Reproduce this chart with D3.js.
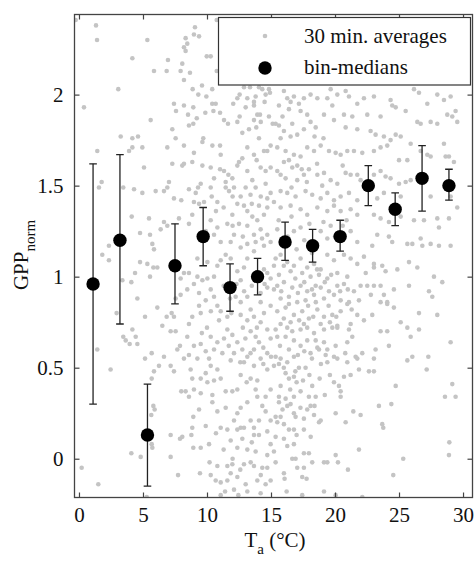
<!DOCTYPE html>
<html>
<head>
<meta charset="utf-8">
<script src="https://cdn.jsdelivr.net/npm/d3@7/dist/d3.min.js"></script>
<style>
  body { margin: 0; background: #fff; }
  svg text { font-family: "Liberation Serif", "Times New Roman", serif; fill: #111; }
</style>
</head>
<body>
<div id="chart"></div>
<script>
// 30 min. averages [Ta, GPPnorm]
const avgPoints = [
  [-0.26,2.41],[1.33,2.38],[1.41,2.30],[4.17,2.20],[5.34,2.30],[3.07,2.03],[0.39,1.93],[5.6,1.86],[5.86,2.13],[6.85,2.13],
  [6.95,2.19],[8.07,2.17],[7.94,2.13],[8.67,2.12],[8.2,2.08],[8.33,2.24],[8.2,2.26],[8.33,2.31],[8.46,2.28],[8.98,2.33],
  [9.06,2.37],[9.38,2.32],[9.98,2.21],[10.29,2.21],[10.76,2.13],[10.76,2.41],[8.88,2.03],[9.61,2.05],[9.32,2.0],[9.95,1.99],
  [10.41,2.03],[7.42,1.95],[8.2,1.94],[7.58,1.91],[8.93,1.93],[8.52,1.89],[9.2,1.87],[9.87,1.90],[10.41,1.95],[10.68,1.95],
  [10.5,1.91],[11.02,1.90],[8.93,1.84],[8.59,1.83],[7.29,1.81],[11.33,1.86],[11.64,1.84],[12.05,1.95],[12.37,1.98],[12.55,2.0],
  [12.37,1.85],[12.55,1.88],[13.15,1.98],[13.02,1.93],[13.67,1.96],[13.8,1.99],[13.67,1.94],[13.36,2.04],[12.89,2.04],[14.06,2.04],
  [14.32,2.03],[14.84,2.03],[14.58,2.0],[14.5,1.96],[14.92,2.01],[13.93,1.89],[14.14,1.89],[13.67,1.86],[14.2,1.85],[14.84,1.88],
  [15.13,1.84],[13.28,1.81],[13.85,1.82],[12.76,1.79],
  [16.01,2.02],[16.27,1.98],[16.53,1.96],[16.79,1.99],[17.18,1.95],[17.57,1.98],[18.09,2.0],[18.62,1.98],[19.4,1.98],[19.66,2.03],
  [20.18,2.0],[20.83,2.02],[21.09,1.99],[21.74,1.95],[22.26,1.98],[23.04,1.99],[24.34,1.97],[24.47,1.94],[24.74,1.93],[25.52,1.91],
  [26.17,2.03],[26.56,2.01],[27.21,1.95],[27.99,2.0],[28.51,1.97],[29.03,1.99],[29.42,1.91],[15.62,1.94],[16.4,1.92],[17.31,1.91],
  [17.83,1.89],[15.36,1.84],[15.62,1.83],[16.01,1.80],[16.66,1.84],[17.05,1.78],[16.53,1.77],[15.75,1.76],[17.57,1.81],[18.09,1.85],
  [18.49,1.82],[19.14,1.89],[19.79,1.94],[19.92,1.86],[20.7,1.89],[20.83,1.82],[21.35,1.88],[21.74,1.81],[22.52,1.89],[22.78,1.80],
  [23.56,1.88],[23.17,1.78],[23.82,1.77],[24.34,1.75],[24.74,1.78],[25.13,1.77],[25.91,1.73],[26.43,1.85],[26.69,1.84],[27.47,1.85],
  [27.99,1.84],[28.77,1.89],[29.16,1.88],[29.55,1.85],[26.69,1.69],[27.21,1.67],[27.47,1.66],[28.51,1.73],[28.64,1.66],[28.9,1.66],
  [29.29,1.63],[15.49,1.71],[16.14,1.69],[16.79,1.67],[17.31,1.66],[16.01,1.63],[16.66,1.60],[17.05,1.61],[17.83,1.71],[18.36,1.69],
  [18.88,1.72],[19.53,1.69],[20.05,1.68],[20.44,1.67],[20.96,1.69],[21.48,1.69],[22.13,1.68],[23.04,1.69],[23.56,1.71],[24.08,1.72],
  [25.0,1.64],[25.65,1.64],[15.49,1.58],[15.75,1.56],[16.14,1.54],[17.05,1.53],[17.57,1.56],[17.96,1.59],[18.62,1.56],[19.14,1.57],
  [19.66,1.53],[20.18,1.51],[20.83,1.57],[21.22,1.56],[21.74,1.56],[22.0,1.53],[23.04,1.56],[23.56,1.58],[23.95,1.55],[24.34,1.54],
  [25.0,1.51],[25.52,1.52],[25.91,1.53],[15.75,1.47],[16.27,1.46],[16.92,1.44],[17.7,1.47],[18.22,1.45],[18.88,1.43],[19.4,1.46],
  [19.92,1.42],[20.44,1.44],[21.09,1.46],[21.74,1.42],[23.3,1.43],[23.82,1.46],[25.13,1.44],[27.47,1.44],[29.03,1.44],
  [15.75,1.38],[16.53,1.39],[17.31,1.37],[17.83,1.34],[18.62,1.38],[19.4,1.36],[19.92,1.39],[20.44,1.36],[21.22,1.37],[21.74,1.34],
  [23.04,1.34],[23.56,1.32],[24.21,1.30],[25.13,1.33],[26.17,1.31],[26.95,1.31],[27.99,1.32],[28.9,1.32],[29.55,1.38],[15.49,1.26],
  [16.79,1.25],[17.31,1.27],[18.88,1.25],[19.4,1.21],[19.66,1.28],[21.22,1.25],[21.74,1.19],[22.91,1.17],[23.3,1.23],[24.21,1.22],
  [24.47,1.19],[25.65,1.18],[26.04,1.18],[26.69,1.21],[26.82,1.17],[27.47,1.18],[28.12,1.17],[28.12,1.27],[29.03,1.17],[15.36,1.10],
  [15.75,1.12],[16.27,1.08],[16.79,1.06],[17.31,1.10],[17.83,1.05],[18.36,1.07],[18.88,1.04],[19.4,1.12],[19.92,1.09],[20.7,1.12],
  [21.22,1.10],[21.74,1.07],[22.26,1.11],[23.04,1.07],[23.04,1.05],[23.69,1.06],[23.95,1.03],[24.87,1.04],[25.78,1.08],[26.43,1.05],
  [27.73,1.0],[15.62,1.01],[16.53,1.03],[17.44,1.02],[18.09,1.0],[18.75,1.01],[19.4,0.99],[20.18,1.02],[20.96,1.0],[15.49,0.95],
  [16.01,0.97],[16.66,0.94],[17.31,0.95],[17.83,0.92],[18.49,0.95],[18.88,0.94],[19.53,0.92],[20.18,0.95],[20.7,0.96],[21.48,0.92],
  [22.0,0.95],[22.52,0.95],[23.04,0.95],[23.56,0.95],[23.82,0.90],[24.6,0.93],[25.78,0.95],[27.34,0.92],[27.6,0.89],[28.38,0.97],
  [15.75,0.88],[16.4,0.89],[17.05,0.86],[17.7,0.87],[18.36,0.90],[19.14,0.88],[19.92,0.90],[20.44,0.87],[21.09,0.86],[21.87,0.87],
  [23.56,0.86],[24.08,0.86],[15.49,0.81],[16.14,0.83],[16.79,0.79],[17.44,0.81],[17.96,0.77],[18.62,0.82],[19.14,0.78],[19.79,0.79],
  [20.44,0.81],[20.96,0.85],[21.74,0.79],[22.26,0.76],[22.91,0.79],[24.08,0.85],[24.6,0.83],[25.13,0.75],[26.56,0.80],[27.99,0.79],
  [15.75,0.74],[16.53,0.75],[17.57,0.74],[18.88,0.74],[20.18,0.73],[21.22,0.74],
  [15.36,0.71],[16.27,0.72],[16.66,0.70],[17.31,0.71],[17.83,0.72],[18.36,0.69],[19.14,0.71],[19.79,0.72],[20.18,0.72],[21.09,0.71],
  [23.56,0.70],[24.08,0.70],[25.65,0.72],[26.56,0.71],[15.49,0.67],[16.14,0.67],[16.79,0.65],[17.31,0.62],[17.83,0.65],[18.49,0.65],
  [18.62,0.61],[19.14,0.64],[19.4,0.60],[20.05,0.62],[20.96,0.64],[21.35,0.67],[22.13,0.58],[21.61,0.56],[23.17,0.60],[24.21,0.62],
  [25.91,0.67],[29.03,0.64],[15.36,0.56],[15.75,0.55],[15.62,0.52],[16.27,0.53],[16.79,0.56],[17.18,0.50],[17.7,0.50],[18.09,0.58],
  [18.75,0.60],[19.27,0.57],[19.4,0.53],[19.92,0.56],[20.18,0.55],[20.96,0.53],[21.74,0.55],[21.87,0.49],[22.65,0.48],[23.04,0.55],
  [23.04,0.48],[25.65,0.54],[26.04,0.56],[27.29,0.56],[27.16,0.49],[16.14,0.47],[16.79,0.45],[16.4,0.44],[15.75,0.40],[18.22,0.40],
  [19.92,0.42],[20.31,0.40],[20.7,0.45],[21.22,0.46],[20.44,0.37],[20.44,0.34],[24.74,0.40],[29.16,0.41],[15.62,0.34],[16.14,0.33],
  [16.53,0.30],[16.79,0.34],[17.31,0.37],[17.96,0.34],[18.09,0.29],[18.49,0.34],[17.83,0.27],[15.62,0.31],[16.27,0.29],[23.43,0.29],
  [24.4,0.30],[28.59,0.34],[29.42,0.34],[15.36,0.23],[15.75,0.23],[16.79,0.25],[16.92,0.23],[17.57,0.22],[18.36,0.24],[18.75,0.20],
  [18.88,0.21],[20.05,0.25],[20.83,0.20],[21.43,0.26],[22.0,0.24],[23.69,0.19],[23.77,0.17],[15.49,0.20],[16.01,0.19],[16.79,0.16],
  [17.57,0.16],[15.36,0.12],[16.01,0.11],[16.27,0.07],[16.79,0.08],[17.57,0.03],[17.96,0.03],[18.22,-0.02],[16.66,0.0],[16.92,0.0],
  [17.05,-0.05],[17.57,-0.05],[19.14,-0.02],[19.4,-0.02],[20.05,0.02],[20.23,-0.02],[21.01,-0.06],[21.87,0.05],[25.33,0.0],[28.93,0.09],
  [28.9,0.02],[24.55,-0.09],[15.36,-0.02],[16.01,-0.08],[16.06,-0.11],[17.44,-0.10],[17.78,-0.11],[16.22,-0.18],[17.44,-0.20],[19.14,-0.18],
  [22.13,-0.21],[20.05,-0.20],
  [1.43,1.69],[1.56,1.49],[1.77,1.52],[3.46,1.49],[5.08,1.60],[4.3,1.48],[4.95,1.46],[3.26,1.77],[4.17,1.76],[4.61,1.77],
  [3.91,1.69],[4.17,1.71],[4.95,1.71],[6.9,1.71],[7.55,1.76],[8.2,1.72],[8.07,1.61],[8.2,1.62],[7.29,1.62],[8.85,1.63],
  [8.98,1.68],[9.64,1.74],[9.71,1.76],[10.42,1.72],[11.02,1.72],[11.07,1.67],[10.29,1.60],[9.64,1.61],[11.02,1.59],[10.55,1.54],
  [11.33,1.58],[11.46,1.52],[11.67,1.56],[11.98,1.54],[12.37,1.61],[12.5,1.63],[12.76,1.65],[13.15,1.71],[13.67,1.67],[13.88,1.64],
  [14.45,1.69],[14.71,1.69],[14.97,1.72],[14.06,1.76],[13.15,1.58],[13.54,1.53],[14.19,1.60],[14.58,1.58],[14.97,1.60],[13.02,1.49],
  [13.8,1.49],[14.58,1.51],[14.97,1.46],[12.11,1.49],[12.63,1.44],[11.46,1.49],[11.72,1.47],[10.29,1.49],[10.37,1.44],[10.81,1.41],
  [9.51,1.51],[9.3,1.49],[9.12,1.46],[8.59,1.48],[7.99,1.42],[7.42,1.43],[6.9,1.49],[6.64,1.47],[5.99,1.47],[7.03,1.52],
  [5.47,1.32],[4.12,1.33],[4.77,1.24],[5.55,1.23],[5.73,1.18],[5.86,1.15],[6.38,1.26],[6.64,1.30],[6.9,1.28],[7.81,1.32],
  [8.59,1.29],[8.85,1.34],[10.29,1.31],[10.81,1.27],[10.55,1.23],[11.07,1.19],[11.46,1.12],[11.85,1.19],[12.11,1.23],[11.59,1.29],
  [11.98,1.34],[13.15,1.36],[13.54,1.33],[13.93,1.31],[14.45,1.34],[14.71,1.38],[12.5,1.29],[13.15,1.28],[13.67,1.23],[14.19,1.26],
  [14.71,1.23],[13.15,1.18],[13.8,1.19],[14.45,1.17],[14.97,1.19],[12.63,1.16],[13.67,1.14],[12.37,1.40],[12.89,1.39],[14.06,1.39],
  [15.23,1.41],[14.71,1.43],[2.34,1.17],[1.82,1.12],[8.98,1.41],[9.38,1.40],[9.77,1.41],
  [2.34,1.09],[3.39,0.98],[4.09,0.97],[4.38,1.02],[4.77,1.08],[5.34,1.07],[5.81,1.05],[6.12,1.05],[5.55,1.0],[4.56,0.88],
  [5.16,0.78],[6.12,0.83],[2.94,0.80],[3.46,0.67],[4.17,0.71],[4.43,0.67],[3.65,0.65],[3.96,0.63],[4.56,0.63],[5.16,0.55],
  [5.68,0.58],[6.51,0.73],[6.85,0.78],[7.24,0.80],[7.42,0.78],[7.16,0.70],[7.55,0.70],[7.89,0.62],[7.68,0.60],[6.64,0.56],
  [5.86,0.48],[6.25,0.51],[7.16,0.51],[7.42,0.48],[8.72,0.49],[8.2,0.55],[8.59,0.57],[9.25,0.55],[8.98,0.62],[9.51,0.63],
  [9.9,0.59],[10.16,0.55],[10.29,0.51],[10.81,0.49],[9.9,0.47],[8.59,0.74],[8.46,0.67],[8.85,0.78],[9.38,0.84],[9.51,0.80],
  [9.9,0.87],[9.38,0.91],[8.98,0.96],[8.46,0.93],[7.94,0.99],[8.2,1.02],[8.59,1.02],[9.25,1.0],[9.64,0.98],[10.03,0.99],
  [10.55,1.0],[10.29,0.93],[10.55,0.89],[10.81,0.84],[11.07,0.81],[11.59,0.78],[10.94,0.76],[11.59,0.71],[11.98,0.68],[12.37,0.64],
  [12.11,0.58],[12.76,0.60],[13.15,0.56],[12.89,0.53],[13.67,0.51],[14.19,0.55],[14.71,0.58],[13.67,0.60],[14.06,0.64],[13.8,0.67],
  [13.41,0.70],[13.15,0.76],[13.67,0.78],[14.19,0.75],[14.71,0.71],[14.97,0.66],[14.45,0.80],[14.97,0.84],[14.19,0.86],[13.41,0.82],
  [12.63,0.79],[12.63,0.86],[12.24,0.89],[13.15,0.89],[14.19,0.91],[14.71,0.94],[15.23,0.93],[14.97,0.99],[14.71,1.02],[15.23,1.06],
  [14.45,1.04],[12.37,1.03],[12.63,0.98],[12.89,1.05],[10.81,1.06],[11.07,1.09],[11.85,1.10],[13.15,1.10],[10.03,1.08],[9.25,1.10],
  [7.94,0.90],[7.55,0.88],[11.33,0.66],[10.81,0.64],[10.29,0.67],[10.55,0.60],[14.71,0.49],[15.23,0.51],[11.85,0.54],[12.63,0.46],
  [1.43,0.60],[2.47,0.49],
  [5.68,0.44],[5.81,0.29],[5.91,0.27],[5.65,0.24],[5.55,0.11],[5.68,0.08],[5.73,0.06],[4.82,0.01],[4.09,0.03],[7.16,0.13],
  [7.16,0.01],[0.21,-0.05],[1.51,-0.14],[7.74,-0.09],[7.89,0.11],[8.07,0.12],[8.85,0.17],[8.78,0.13],[8.93,0.06],[9.51,0.06],
  [10.16,0.08],[9.38,0.27],[8.93,0.23],[7.99,0.37],[8.33,0.37],[8.59,0.34],[8.98,0.38],[9.51,0.36],[8.85,0.44],[9.51,0.44],
  [10.03,0.42],[10.55,0.43],[11.07,0.44],[11.46,0.37],[11.98,0.37],[12.37,0.38],[13.1,0.42],[13.41,0.44],[13.93,0.43],[13.8,0.38],
  [13.15,0.31],[12.63,0.28],[12.37,0.25],[10.42,0.35],[10.42,0.31],[10.81,0.26],[11.46,0.28],[12.11,0.21],[12.63,0.17],[12.37,0.16],
  [12.89,0.17],[13.41,0.21],[13.67,0.17],[14.06,0.21],[14.58,0.26],[14.97,0.21],[14.32,0.29],[13.93,0.34],[14.58,0.34],[14.97,0.38],
  [11.59,0.16],[11.07,0.17],[11.85,0.10],[12.76,0.11],[13.67,0.13],[14.06,0.13],[14.71,0.15],[14.97,0.08],[12.37,0.06],[13.15,0.05],
  [13.8,0.04],[14.71,0.02],[15.23,0.04],[10.81,-0.04],[11.59,-0.04],[11.98,-0.03],[12.89,-0.03],[13.41,-0.02],[13.67,-0.04],[14.32,-0.05],
  [14.71,-0.05],[9.45,-0.08],[10.29,-0.09],[10.68,-0.12],[11.07,-0.13],[11.59,-0.12],[11.85,-0.08],[12.37,-0.10],[13.02,-0.14],[13.93,-0.12],
  [14.58,-0.14],[14.97,-0.12],[12.11,-0.17],[13.15,-0.18],[14.19,-0.19],[11.41,-0.18],[12.45,-0.20],[5.29,-0.21],[11.07,-0.20],
  // denser core, filled in between the dots above
  [15.9,1.18],[16.3,1.22],[17.0,1.15],[17.6,1.20],[18.2,1.13],[18.6,1.18],[19.1,1.30],[20.0,1.22],[20.6,1.28],[16.0,1.06],
  [16.9,0.99],[17.6,0.97],[18.2,0.93],[18.6,1.04],[19.2,0.97],[19.7,1.01],[20.4,0.92],[21.0,0.93],[15.8,0.92],[16.4,0.85],
  [17.1,0.91],[17.9,0.84],[18.5,0.86],[19.5,0.84],[20.1,0.78],[21.3,0.82],[16.0,0.77],[17.2,0.76],[18.3,0.78],[19.6,0.75],
  [15.6,1.31],[16.6,1.33],[18.0,1.29],[20.9,1.31],[22.4,1.02],[22.8,0.90],
  [15.7,0.62],[16.4,0.60],[17.1,0.57],[17.6,0.59],[18.2,0.55],[18.9,0.52],[16.0,0.50],[16.9,0.48],[17.5,0.43],[18.0,0.46],
  [18.8,0.44],[16.5,0.38],[17.0,0.42],[15.9,0.27],[17.3,0.28],[18.4,0.29],[19.2,0.35],[17.0,0.13],[18.1,0.12],[16.4,0.16],
  [19.6,0.46],[20.8,0.58],
  [11.3,0.95],[11.8,0.88],[12.3,0.96],[12.9,0.92],[13.5,0.95],[14.1,1.01],[14.5,0.96],[11.9,0.80],[12.8,0.72],[13.0,0.66],
  [13.9,0.72],[14.4,0.61],[12.6,0.53],[13.4,0.58],[14.4,0.52],[15.0,0.56],[11.2,0.58],[11.7,0.62],[10.3,0.81],[10.0,0.72],
  [9.6,0.69],
  [12.0,1.44],[13.4,1.45],[14.2,1.44],[11.3,1.38],[13.5,1.40],[12.8,1.22],[14.3,1.21],[12.0,1.28],[10.7,1.36],[9.9,1.25],
  [16.4,1.64],[17.4,1.59],[18.6,1.62],[19.1,1.76],[18.4,1.77],[19.0,1.50],[20.6,1.61],[16.6,1.49],[17.8,1.52],[15.9,1.88],
  [9.9,0.18],[10.7,0.14],[11.3,0.05],[12.0,0.00],[12.6,-0.06],[13.5,0.09],[14.2,-0.09],[10.2,-0.02]
];

// bin-medians with error bar ends
const binT      = [1.1, 3.2, 5.35, 7.5, 9.7, 11.8, 13.95, 16.1, 18.25, 20.4, 22.6, 24.7, 26.8, 28.9];
const binMedian = [0.96, 1.20, 0.13, 1.06, 1.22, 0.94, 1.00, 1.19, 1.17, 1.22, 1.50, 1.37, 1.54, 1.50];
const binHigh   = [1.62, 1.67, 0.41, 1.29, 1.38, 1.07, 1.10, 1.30, 1.26, 1.31, 1.61, 1.46, 1.72, 1.59];
const binLow    = [0.30, 0.74, -0.15, 0.85, 1.06, 0.81, 0.90, 1.09, 1.08, 1.14, 1.39, 1.28, 1.36, 1.42];

const xTicks = [0, 5, 10, 15, 20, 25, 30];
const yTicks = [0, 0.5, 1, 1.5, 2];
const legendLabels = ["30 min. averages", "bin-medians"];

const W = 476, H = 562;
const frame = { left: 74.5, right: 472.5, top: 14.5, bottom: 497.5 };

const svg = d3.select("#chart").append("svg")
    .attr("width", W)
    .attr("height", H);

const x = d3.scaleLinear().domain([-0.35, 30.74]).range([frame.left, frame.right]);
const y = d3.scaleLinear().domain([-0.213, 2.44]).range([frame.bottom, frame.top]);

svg.append("clipPath").attr("id", "plotclip")
  .append("rect")
    .attr("x", frame.left).attr("y", frame.top)
    .attr("width", frame.right - frame.left)
    .attr("height", frame.bottom - frame.top);

const plot = svg.append("g").attr("clip-path", "url(#plotclip)");

// gray scatter
plot.selectAll(".avg")
  .data(avgPoints)
  .enter().append("circle")
    .attr("class", "avg")
    .attr("cx", d => x(d[0]))
    .attr("cy", d => y(d[1]))
    .attr("r", 2.3)
    .attr("fill", "#c4c4c4");

// error bars
const bins = binT.map((t, i) => ({ t, m: binMedian[i], lo: binLow[i], hi: binHigh[i] }));
const cap = 3.8;
const eb = plot.selectAll(".eb").data(bins).enter().append("g").attr("class", "eb")
    .attr("stroke", "#222").attr("stroke-width", 1.3);
eb.append("line")
    .attr("x1", d => x(d.t)).attr("x2", d => x(d.t))
    .attr("y1", d => y(d.lo)).attr("y2", d => y(d.hi));
eb.append("line")
    .attr("x1", d => x(d.t) - cap).attr("x2", d => x(d.t) + cap)
    .attr("y1", d => y(d.hi)).attr("y2", d => y(d.hi));
eb.append("line")
    .attr("x1", d => x(d.t) - cap).attr("x2", d => x(d.t) + cap)
    .attr("y1", d => y(d.lo)).attr("y2", d => y(d.lo));

plot.selectAll(".med").data(bins).enter().append("circle")
    .attr("class", "med")
    .attr("cx", d => x(d.t))
    .attr("cy", d => y(d.m))
    .attr("r", 6.7)
    .attr("fill", "#000");

// axes (ticks inside, mirrored on top and right)
const axisColor = "#444";
const tickLen = 5;

function styleAxis(g) {
  g.select(".domain").remove();
  g.selectAll(".tick line").attr("stroke", axisColor).attr("stroke-width", 1.2);
  g.selectAll(".tick text")
    .attr("fill", "#111")
    .style("font-family", '"Liberation Serif", "Times New Roman", serif')
    .style("font-size", "21px");
}

svg.append("g")
    .attr("transform", `translate(0,${frame.bottom})`)
    .call(d3.axisBottom(x).tickValues(xTicks).tickSizeInner(-tickLen).tickSizeOuter(0).tickPadding(10).tickFormat(d3.format("d")))
    .call(styleAxis);

svg.append("g")
    .attr("transform", `translate(0,${frame.top})`)
    .call(d3.axisTop(x).tickValues(xTicks).tickSizeInner(-tickLen).tickSizeOuter(0).tickFormat(""))
    .call(styleAxis);

svg.append("g")
    .attr("transform", `translate(${frame.left},0)`)
    .call(d3.axisLeft(y).tickValues(yTicks).tickSizeInner(-tickLen).tickSizeOuter(0).tickPadding(11).tickFormat(d => d))
    .call(styleAxis);

svg.append("g")
    .attr("transform", `translate(${frame.right},0)`)
    .call(d3.axisRight(y).tickValues(yTicks).tickSizeInner(-tickLen).tickSizeOuter(0).tickFormat(""))
    .call(styleAxis);

svg.append("rect")
    .attr("x", frame.left).attr("y", frame.top)
    .attr("width", frame.right - frame.left)
    .attr("height", frame.bottom - frame.top)
    .attr("fill", "none")
    .attr("stroke", axisColor)
    .attr("stroke-width", 1.3);

// legend
const leg = svg.append("g");
leg.append("rect")
    .attr("x", 218.5).attr("y", 17.5)
    .attr("width", 252).attr("height", 67.5)
    .attr("fill", "#fff")
    .attr("stroke", "#333")
    .attr("stroke-width", 1.2);
leg.append("circle").attr("cx", 265).attr("cy", 36).attr("r", 2.3).attr("fill", "#c4c4c4");
leg.append("circle").attr("cx", 265).attr("cy", 68).attr("r", 6.7).attr("fill", "#000");
leg.selectAll(".legtext").data(legendLabels).enter().append("text")
    .attr("class", "legtext")
    .attr("x", 304)
    .attr("y", (d, i) => i === 0 ? 42.5 : 74)
    .style("font-size", "21px")
    .text(d => d);

// axis labels
const xl = svg.append("text")
    .attr("x", 275).attr("y", 547)
    .attr("text-anchor", "middle")
    .style("font-size", "21px");
xl.append("tspan").text("T");
xl.append("tspan").attr("dy", 7).style("font-size", "15px").text("a");
xl.append("tspan").attr("dy", -7).text(" (°C)");

const yl = svg.append("text")
    .attr("transform", "translate(28,255) rotate(-90)")
    .attr("text-anchor", "middle")
    .style("font-size", "21px");
yl.append("tspan").text("GPP");
yl.append("tspan").attr("dy", 7).style("font-size", "15px").text("norm");
</script>
</body>
</html>
